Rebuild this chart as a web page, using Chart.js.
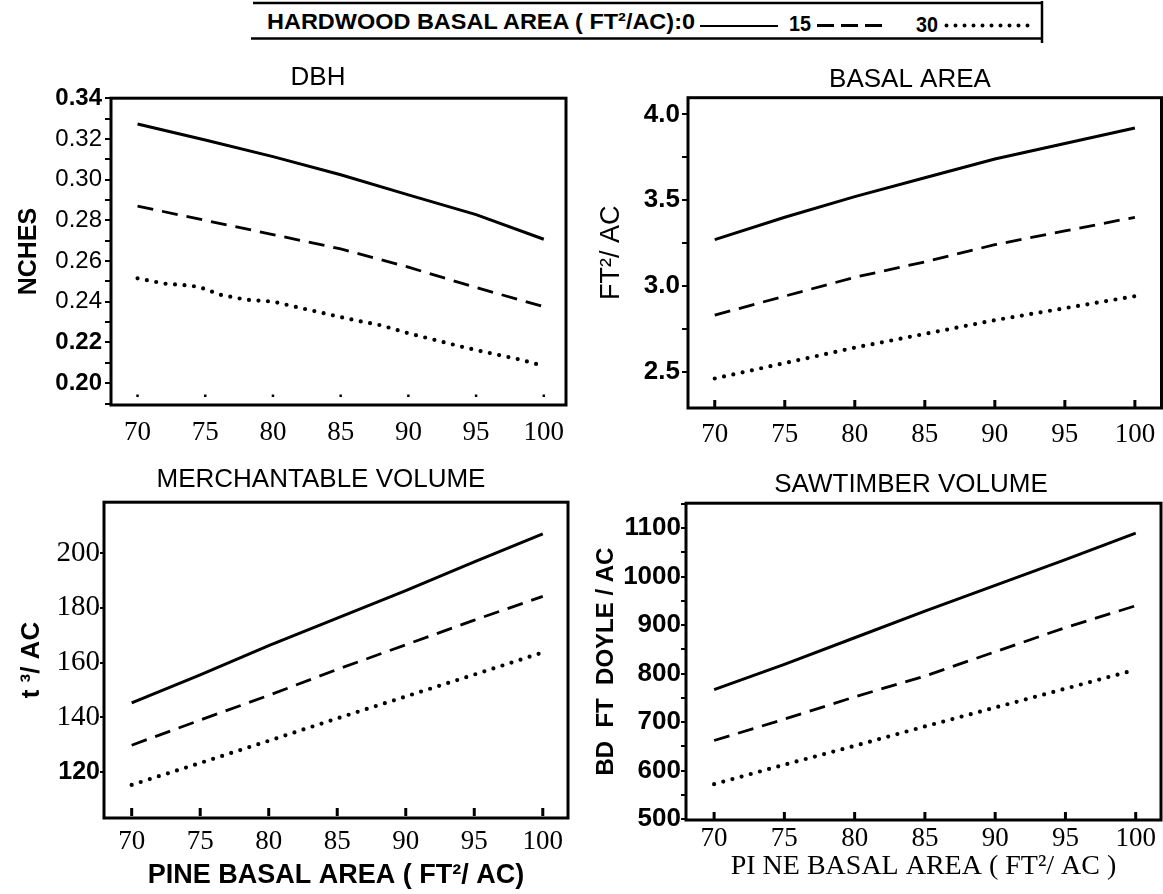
<!DOCTYPE html>
<html>
<head>
<meta charset="utf-8">
<title>Pine basal area response</title>
<script src="https://cdn.jsdelivr.net/npm/chart.js@4.4.1/dist/chart.umd.min.js"></script>
<style>
  html, body { margin: 0; padding: 0; background: #fff; overflow: hidden; width: 1163px; height: 894px; }
  .panel { position: absolute; }
  #legend { position: absolute; left: 0; top: 0; }
</style>
</head>
<body>

<svg id="legend" width="1163" height="50" xmlns="http://www.w3.org/2000/svg">
  <line x1="253" y1="3" x2="1043" y2="3" stroke="#000" stroke-width="2.5"/>
  <line x1="251" y1="38.5" x2="1043" y2="38.5" stroke="#000" stroke-width="2.5"/>
  <line x1="1042" y1="1" x2="1042" y2="43" stroke="#000" stroke-width="2.5"/>
  <g font-family="'Liberation Sans', Arial, sans-serif" font-weight="bold" font-size="22" fill="#000">
    <text x="267" y="29" textLength="428" lengthAdjust="spacingAndGlyphs">HARDWOOD  BASAL  AREA ( FT²/AC):0</text>
    <text id="lg15" x="789" y="31" textLength="22" lengthAdjust="spacingAndGlyphs"></text>
    <text id="lg30" x="916" y="32" textLength="22" lengthAdjust="spacingAndGlyphs"></text>
  </g>
  <line x1="700" y1="26" x2="778" y2="26" stroke="#000" stroke-width="2.2"/>
  <line x1="817" y1="25.5" x2="882" y2="25.5" stroke="#000" stroke-width="2.8" stroke-dasharray="17 7"/>
  <line x1="946.5" y1="25.5" x2="1028" y2="25.5" stroke="#000" stroke-width="4" stroke-linecap="round" stroke-dasharray="0 9"/>
</svg>

<div class="panel" style="left:0px;top:62px;width:636px;height:388px"><canvas id="dbh"></canvas></div>
<div class="panel" style="left:590px;top:64px;width:640px;height:389px"><canvas id="basal"></canvas></div>
<div class="panel" style="left:0px;top:464px;width:642px;height:428px"><canvas id="merch"></canvas></div>
<div class="panel" style="left:590px;top:469px;width:642px;height:414px"><canvas id="saw"></canvas></div>

<script>
// hardwood basal area levels (ft2/ac) shown in the legend
const hardwoodLevels = ['0', '15', '30'];

// pine basal area (ft2/ac) on the x axis
const pineBA = [70, 75, 80, 85, 90, 95, 100];

// DBH growth (inches)
const dbh0 = [0.3273, 0.3195, 0.3113, 0.3024, 0.2925, 0.2828, 0.2707];
const dbh15 = [0.2870, 0.2800, 0.2730, 0.2660, 0.2570, 0.2470, 0.2376];
const dbh30x = [70, 72, 74, 75, 76, 78, 80, 82, 84, 86, 88, 90, 92, 94, 96, 98, 100];
const dbh30 = [0.2515, 0.2489, 0.2479, 0.2463, 0.2436, 0.2410, 0.2401, 0.2370, 0.2340, 0.2310,
               0.2284, 0.2245, 0.2212, 0.2178, 0.2148, 0.2120, 0.2085];

// basal area growth (ft2/ac)
const ba0 = [3.27, 3.40, 3.52, 3.63, 3.74, 3.83, 3.92];
const ba15 = [2.83, 2.94, 3.05, 3.14, 3.24, 3.32, 3.40];
const ba30 = [2.46, 2.55, 2.64, 2.72, 2.80, 2.87, 2.94];

// merchantable volume growth (ft3/ac)
const mv0 = [145.3, 155.5, 166.2, 176.2, 186.3, 196.8, 207.0];
const mv15 = [129.8, 139.0, 148.0, 157.5, 166.5, 175.5, 184.2];
const mv30 = [115.3, 123.3, 131.4, 139.6, 147.6, 155.6, 163.7];

// sawtimber volume growth (bd ft Doyle/ac)
const sv0 = [767, 819, 874, 929, 982, 1035, 1090];
const sv15 = [662, 706, 752, 795, 845, 895, 940];
const sv30 = [572, 612, 651, 691, 730, 769, 808];

document.getElementById('lg15').textContent = hardwoodLevels[1];
document.getElementById('lg30').textContent = hardwoodLevels[2];

Chart.defaults.color = '#000';
Chart.defaults.font.family = "'Liberation Sans', Arial, sans-serif";

const SANS = "'Liberation Sans', Arial, sans-serif";
const SERIF = "'Liberation Serif', 'Times New Roman', serif";

const pts = (xs, ys) => ys.map((y, i) => ({ x: xs[i], y: y }));
const tickVal = ctx => (ctx.tick ? ctx.tick.value : NaN);

// box round the plot area and short inside ticks on the bottom axis
const framePlugin = {
  id: 'frame',
  afterDraw(chart, args, opts) {
    const { ctx, chartArea: a } = chart;
    const x = chart.scales.x;
    ctx.save();
    ctx.strokeStyle = '#000';
    ctx.lineWidth = 3;
    ctx.strokeRect(a.left, a.top, a.right - a.left, a.bottom - a.top);
    ctx.lineWidth = opts.tickWidth;
    x.ticks.forEach(t => {
      const px = x.getPixelForValue(t.value);
      ctx.beginPath();
      ctx.moveTo(px, a.bottom - opts.tickGap);
      ctx.lineTo(px, a.bottom - opts.tickGap - opts.tickLen);
      ctx.stroke();
    });
    ctx.restore();
  }
};

function lineSet(data, style) {
  const ds = { data: data, borderColor: '#000', pointRadius: 0, tension: 0, fill: false, borderWidth: 3 };
  if (style === 'dash') {
    ds.borderDash = [16, 9];
    ds.borderWidth = 2.8;
  }
  if (style === 'dot') {
    ds.borderDash = [0, 9.5];
    ds.borderCapStyle = 'round';
    ds.borderWidth = 4.2;
  }
  return ds;
}

function makePanel(id, p) {
  new Chart(document.getElementById(id), {
    type: 'line',
    data: {
      datasets: [
        lineSet(p.s0, 'solid'),
        lineSet(p.s15, 'dash'),
        lineSet(p.s30, 'dot')
      ]
    },
    options: {
      responsive: true,
      maintainAspectRatio: false,
      animation: false,
      layout: { padding: 0 },
      plugins: {
        legend: { display: false },
        tooltip: { enabled: false },
        title: {
          display: true,
          text: p.title,
          font: { family: SANS, size: 26, weight: 'normal', lineHeight: 1.2 },
          padding: { top: 0, bottom: p.titleGap }
        },
        frame: p.frame
      },
      scales: {
        x: {
          type: 'linear',
          min: p.xMin,
          max: p.xMax,
          grid: { display: false },
          border: { display: false },
          ticks: {
            stepSize: 5,
            includeBounds: false,
            autoSkip: false,
            maxRotation: 0,
            padding: p.xPad,
            font: { family: SERIF, size: 27, lineHeight: p.xLh }
          },
          title: p.xTitle ? {
            display: true,
            text: p.xTitle,
            font: p.xTitleFont,
            padding: { top: 0, bottom: 0 }
          } : { display: false },
          afterFit: s => { s.height = p.xH; }
        },
        y: {
          type: 'linear',
          position: 'left',
          min: p.yMin,
          max: p.yMax,
          grid: { display: true, drawOnChartArea: false, drawTicks: true, tickLength: p.tickLen, lineWidth: 2, color: '#000' },
          border: { display: false },
          ticks: {
            stepSize: p.yStep,
            includeBounds: false,
            autoSkip: false,
            padding: p.yPad,
            font: p.yFont,
            callback: p.yLabel
          },
          title: {
            display: true,
            text: p.yTitle,
            font: p.yTitleFont,
            padding: { top: p.yTitlePad, bottom: 0 }
          },
          afterFit: s => { s.width = p.yW; }
        },
        yR: {
          type: 'linear',
          position: 'right',
          display: true,
          grid: { display: false },
          border: { display: false },
          ticks: { display: false },
          afterFit: s => { s.width = p.rW; }
        }
      }
    },
    plugins: [framePlugin]
  });
}

// DBH
makePanel('dbh', {
  title: 'DBH', titleGap: 5,
  s0: pts(pineBA, dbh0), s15: pts(pineBA, dbh15), s30: pts(dbh30x, dbh30),
  xMin: 68.04, xMax: 101.64, xPad: 4, xLh: 1.2, xH: 45,
  yMin: 0.1893, yMax: 0.34, yStep: 0.01, tickLen: 6, yPad: 3,
  yFont: ctx => {
    const v = Math.round(tickVal(ctx) * 100);
    const bold = v === 34 || v === 22 || v === 20;
    return { family: SANS, size: 24, weight: bold ? 'bold' : 'normal' };
  },
  yLabel: v => {
    const c = Math.round(v * 100);
    return c % 2 === 0 ? (c / 100).toFixed(2) : '';
  },
  yTitle: 'NCHES', yTitleFont: { family: SANS, size: 25, weight: 'bold', lineHeight: 1.2 }, yTitlePad: 14,
  yW: 111, rW: 70,
  frame: { tickWidth: 2.5, tickLen: 2.5, tickGap: 8 }
});

// basal area
makePanel('basal', {
  title: 'BASAL AREA', titleGap: 2.5,
  s0: pts(pineBA, ba0), s15: pts(pineBA, ba15), s30: pts(pineBA, ba30),
  xMin: 68.09, xMax: 101.9, xPad: 3, xLh: 1.2, xH: 45,
  yMin: 2.288, yMax: 4.097, yStep: 0.25, tickLen: 6, yPad: 2,
  yFont: { family: SANS, size: 26, weight: 'bold' },
  yLabel: v => {
    const q = Math.round(v * 4);
    return q % 2 === 0 ? (q / 4).toFixed(1) : '';
  },
  yTitle: 'FT²/ AC', yTitleFont: { family: SANS, size: 27, weight: 'normal', lineHeight: 1.2 }, yTitlePad: 5.4,
  yW: 98, rW: 68.5,
  frame: { tickWidth: 3, tickLen: 7, tickGap: 1 }
});

// merchantable volume
makePanel('merch', {
  title: 'MERCHANTABLE VOLUME', titleGap: 7,
  s0: pts(pineBA, mv0), s15: pts(pineBA, mv15), s30: pts(pineBA, mv30),
  xMin: 67.98, xMax: 101.84, xPad: 2.5, xLh: 1.0, xH: 74,
  xTitle: 'PINE BASAL AREA ( FT²/ AC)', xTitleFont: { family: SANS, size: 27, weight: 'bold', lineHeight: 1.2 },
  yMin: 103.2, yMax: 218.6, yStep: 20, tickLen: 4, yPad: 0,
  yFont: ctx => tickVal(ctx) === 120
    ? { family: SANS, size: 25, weight: 'bold' }
    : { family: SERIF, size: 29, weight: 'normal' },
  yLabel: v => String(Math.round(v)),
  yTitle: 't ³/ AC', yTitleFont: { family: SANS, size: 26, weight: 'bold', lineHeight: 1.2 }, yTitlePad: 15.9,
  yW: 104, rW: 74,
  frame: { tickWidth: 3, tickLen: 8, tickGap: 2 }
});

// sawtimber volume
makePanel('saw', {
  title: 'SAWTIMBER VOLUME', titleGap: 3,
  s0: pts(pineBA, sv0), s15: pts(pineBA, sv15), s30: pts(pineBA, sv30),
  xMin: 68.0, xMax: 101.8, xPad: -3, xLh: 1.0, xH: 63,
  xTitle: 'PI NE BASAL AREA ( FT²/ AC )', xTitleFont: { family: SERIF, size: 28, weight: 'normal', lineHeight: 1.2 },
  yMin: 498, yMax: 1151.6, yStep: 50, tickLen: 5, yPad: 0,
  yFont: { family: SANS, size: 26, weight: 'bold' },
  yLabel: v => (Math.round(v) % 100 === 0 ? String(Math.round(v)) : ''),
  yTitle: 'BD  FT  DOYLE / AC', yTitleFont: { family: SANS, size: 24, weight: 'bold', lineHeight: 1.2 }, yTitlePad: 1.6,
  yW: 96, rW: 71,
  frame: { tickWidth: 3, tickLen: 7, tickGap: 1 }
});
</script>
</body>
</html>
